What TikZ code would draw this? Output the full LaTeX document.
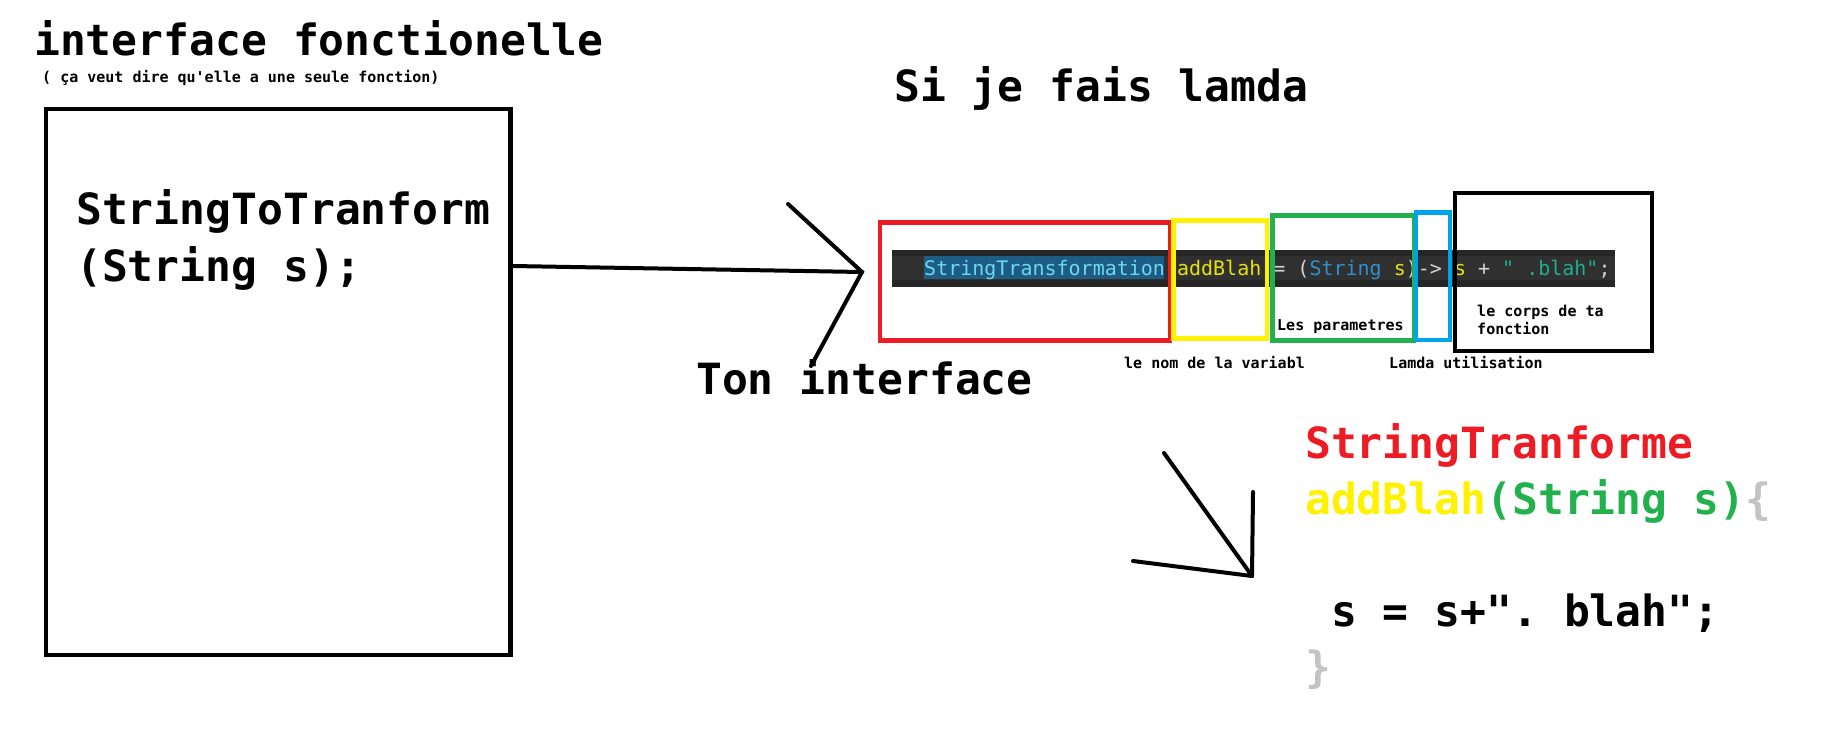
\documentclass[tikz,border=0pt]{standalone}
\usepackage{fontspec}
\setmonofont{DejaVu Sans Mono}
\usetikzlibrary{positioning}

\definecolor{paintred}{HTML}{ED1C24}
\definecolor{paintyellow}{HTML}{FFF200}
\definecolor{paintgreen}{HTML}{22B14C}
\definecolor{paintblue}{HTML}{00A2E8}
\definecolor{paintgray}{HTML}{C3C3C3}
\definecolor{bardark}{HTML}{262626}
\definecolor{barline}{HTML}{303030}
\definecolor{selblue}{HTML}{1D5C87}
\definecolor{typecyan}{HTML}{6CD9E8}
\definecolor{kwblue}{HTML}{2F8FD0}
\definecolor{varyellow}{HTML}{E5E010}
\definecolor{strteal}{HTML}{1DB08E}
\definecolor{codegray}{HTML}{D4D4D4}

\begin{document}
\begin{tikzpicture}[x=1pt, y=-1pt,
    pen/.style={line width=4pt, line cap=round},
    frame/.style={line width=4.5pt},
    big/.style={anchor=base west, inner sep=0pt, font=\ttfamily\bfseries\fontsize{43}{56}\selectfont},
    small/.style={anchor=base west, inner sep=0pt, font=\ttfamily\bfseries\fontsize{15}{18}\selectfont},
    code/.style={anchor=base west, inner sep=0pt, text=codegray, font=\ttfamily\fontsize{20}{24}\selectfont}]
    \fill[white] (0,0) rectangle (1830,744);
    \useasboundingbox (0,0) rectangle (1830,744);

    % Left side: the interface
    \node[big] (title) at (34,55) {interface fonctionelle};
    \node[small] (subtitle) at (42,82) {( ça veut dire qu'elle a une seule fonction)};
    \node[draw, line width=4.5pt, minimum width=464.5pt, minimum height=546pt] (iface) at (278.25,382) {};
    \node[big] (sig) at (76,224) {StringToTranform};
    \node[big] (sigargs) at ([yshift=-57pt]sig.base west) {(String s);};

    % Arrow towards the lambda
    \coordinate (tipA) at (862,272);
    \coordinate (wingA) at (788,204);
    \coordinate (wingB) at (811,366);
    \draw[pen] ([yshift=116pt]iface.east) -- (tipA);
    \draw[pen] (wingA) -- (tipA) -- (wingB);
    \node[big] (ton) at (696,394) {Ton interface};

    % The lambda line
    \node[big] (lamtitle) at (894,101) {Si je fais lamda};
    \fill[bardark] (892,250) rectangle (1615,287);
    \fill[barline] (892,256) rectangle (1615,280);
    \fill[selblue] (924,256) rectangle (1164,279);
    \node[code] (lamda) at (924,275) {{\color{typecyan}StringTransformation} {\color{varyellow}addBlah} = ({\color{kwblue}String} {\color{varyellow}s})-> {\color{varyellow}s} + {\color{strteal}" .blah"};};

    % Frames round each part
    \draw[frame, paintred] (880,222.5) rectangle (1170,340.5);
    \draw[frame, paintyellow] (1173.5,220.5) rectangle (1267,338.5);
    \draw[frame, paintgreen] (1272.5,215.5) rectangle (1414,340.5);
    \draw[frame, paintblue] (1416,212.5) rectangle (1450,340);
    \draw[frame] (1455,193) rectangle (1652,351);

    \node[small] (params) at (1277,330) {Les parametres};
    \node[small] (corps) at (1477,316) {le corps de ta};
    \node[small] (corps2) at ([yshift=-18pt]corps.base west) {fonction};
    \node[small] (varname) at (1124,368) {le nom de la variabl};
    \node[small] (lamuse) at (1389,368) {Lamda utilisation};

    % Arrow towards the expanded method
    \coordinate (tipB) at (1252,576);
    \coordinate (wingC) at (1164,453);
    \coordinate (wingD) at (1253,492);
    \coordinate (wingE) at (1133,561);
    \draw[pen] (wingC) -- (tipB);
    \draw[pen] (wingD) -- (tipB);
    \draw[pen] (wingE) -- (tipB);

    % Expanded method
    \node[big, text=paintred] (ret) at (1305,458) {StringTranforme};
    \node[big] (meth) at ([yshift=-56pt]ret.base west) {{\color{paintyellow}addBlah}{\color{paintgreen}(String s)}{\color{paintgray}\{}};
    \node[big] (body) at ([yshift=-112pt]meth.base west) {\ s = s+". blah";};
    \node[big, text=paintgray] (close) at ([yshift=-56pt]body.base west) {\}};
\end{tikzpicture}
\end{document}
